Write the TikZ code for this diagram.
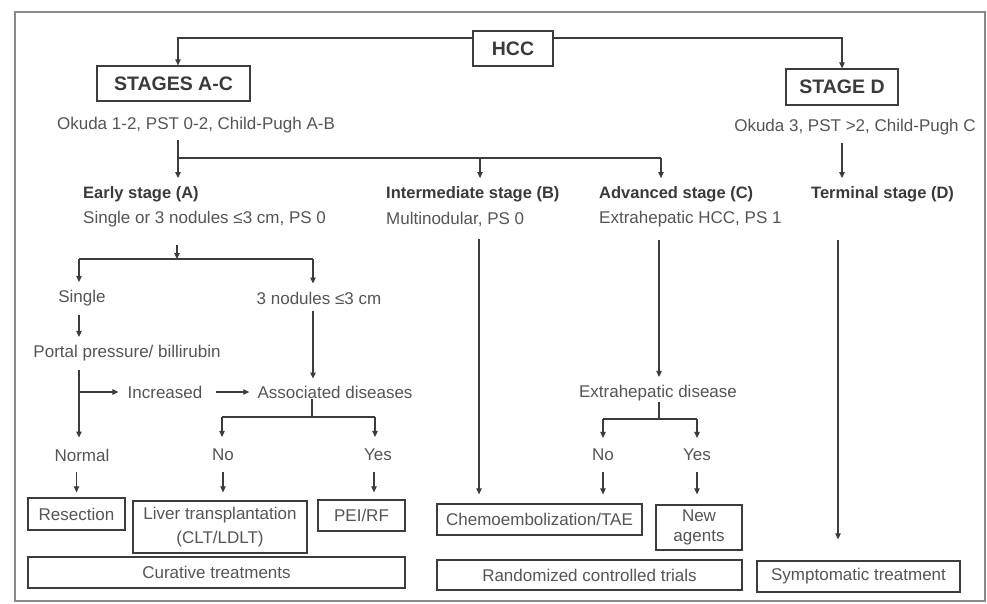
\documentclass[tikz,border=0pt]{standalone}
\usepackage{fontspec}
\setmainfont{Liberation Sans}
\usetikzlibrary{arrows.meta,calc}
\definecolor{txt}{HTML}{555555}
\definecolor{hd}{HTML}{3A3A3A}
\definecolor{ln}{HTML}{3C3C3C}
\definecolor{frm}{HTML}{8A8A8A}
\newcommand{\ftxt}{\fontsize{17}{20}\selectfont}
\newcommand{\fbld}{\fontsize{16.5}{20}\selectfont\bfseries}
\newcommand{\fhdr}{\fontsize{19.5}{22}\selectfont\bfseries}
\begin{document}
\begin{tikzpicture}[x=1pt,y=-1pt,
  line/.style={draw=ln, line width=1.1pt},
  arr/.style={line, -{Triangle[length=6pt,width=5.5pt]}},
  box/.style={draw=ln, line width=1.3pt, inner sep=0pt, text=txt, align=center, font=\ftxt},
  hbox/.style={box, font=\fhdr, text=hd},
  lbl/.style={text=txt, inner sep=1pt, font=\ftxt},
  blbl/.style={text=hd, inner sep=1pt, font=\fbld}]
\fill[white] (0,0) rectangle (987,603);
\useasboundingbox (0,0) rectangle (987,603);
\draw[draw=frm, line width=1.2pt] (15,12) rectangle (985,601);

% header boxes
\node[hbox, minimum width=80, minimum height=35] (hcc) at (513,48.5) {HCC};
\node[hbox, minimum width=153, minimum height=35] (sac) at (173.5,83.5) {STAGES A-C};
\node[hbox, minimum width=112, minimum height=36] (sd) at (842,87) {STAGE D};
\node[lbl] (okl) at (196,125) {Okuda 1-2, PST 0-2, Child-Pugh A-B};
\node[lbl] (okr) at (855,127) {Okuda 3, PST >2, Child-Pugh C};

% stage texts
\node[blbl, anchor=west] (early) at (82,194) {Early stage (A)};
\node[lbl, anchor=west] (earlyd) at (82,219) {Single or 3 nodules ≤3 cm, PS 0};
\node[blbl, anchor=west] (inter) at (385,194) {Intermediate stage (B)};
\node[lbl, anchor=west] (interd) at (385,219) {Multinodular, PS 0};
\node[blbl, anchor=west] (adv) at (598,194) {Advanced stage (C)};
\node[lbl, anchor=west] (advd) at (598,219) {Extrahepatic HCC, PS 1};
\node[blbl, anchor=west] (term) at (810,194) {Terminal stage (D)};

% decision texts
\node[lbl] (single) at (82,298) {Single};
\node[lbl] (nod3) at (319,298) {3 nodules ≤3 cm};
\node[lbl] (portal) at (127,353) {Portal pressure/ billirubin};
\node[lbl] (incr) at (165,392) {Increased};
\node[lbl] (assoc) at (335,392) {Associated diseases};
\node[lbl] (exd) at (658,393) {Extrahepatic disease};
\node[lbl] (normal) at (82,455) {Normal};
\node[lbl] (no1) at (223,455) {No};
\node[lbl] (yes1) at (378,455) {Yes};
\node[lbl] (no2) at (603,455) {No};
\node[lbl] (yes2) at (697,455) {Yes};

% treatment boxes
\node[box, minimum width=97, minimum height=32] (res) at (76.5,514) {Resection};
\node[box, minimum width=174, minimum height=52] (liver) at (220,527) {Liver transplantation\\[4pt](CLT/LDLT)};
\node[box, minimum width=87, minimum height=31] (pei) at (361.5,515.5) {PEI/RF};
\node[box, minimum width=377, minimum height=31] (cur) at (216.5,572.5) {Curative treatments};
\node[box, minimum width=205, minimum height=31] (chemo) at (539.5,519.5) {Chemoembolization/TAE};
\node[box, minimum width=86, minimum height=45] (newag) at (699,527.5) {New\\agents};
\node[box, minimum width=305, minimum height=30] (rct) at (589.5,575) {Randomized controlled trials};
\node[box, minimum width=203, minimum height=31] (sym) at (858.5,576.5) {Symptomatic treatment};

% connectors: top
\draw[arr] (hcc.west |- 0,38) -| (178,0 |- sac.north);
\draw[arr] (hcc.east |- 0,38) -| (sd.north);
\draw[line, shorten <=6pt] (178,0 |- okl.south) -- (178,158) coordinate (j1) -- (661,158) coordinate (j2);
\draw[arr, shorten >=7pt] (j1) -- (178,0 |- early.north);
\draw[arr, shorten >=7pt] (480,158) -- (480,0 |- inter.north);
\draw[arr, shorten >=7pt] (j2) -- (661,0 |- adv.north);
\draw[arr, shorten <=7pt, shorten >=7pt] (sd.south |- okr.south) -- (sd.south |- term.north);

% early stage branch
\draw[arr, shorten <=17pt] (177,0 |- earlyd.south) -- (177,259) coordinate (j3);
\draw[line] (79,259) coordinate (j4) -- (313,259) coordinate (j5);
\draw[arr, shorten >=7pt] (j4) -- (79,0 |- single.north);
\draw[arr, shorten >=7pt] (j5) -- (313,0 |- nod3.north);
\draw[arr, shorten <=8pt, shorten >=7pt] (79,0 |- single.south) -- (79,0 |- portal.north);
\draw[arr, shorten <=8pt, shorten >=10pt] (79,0 |- portal.south) -- (79,0 |- normal.north);
\draw[arr, shorten >=8pt] (79,0 |- incr.west) -- (incr.west);
\draw[arr, shorten <=12pt, shorten >=7pt] (incr.east) -- (assoc.west);
\draw[arr, shorten <=6pt, shorten >=6pt] (313,0 |- nod3.south) -- (313,0 |- assoc.north);
\draw[line] (312,0 |- assoc.south) -- (312,417) coordinate (j6);
\draw[line] (222,417) coordinate (j7) -- (375,417) coordinate (j8);
\draw[arr, shorten >=11pt] (j7) -- (222,0 |- no1.north);
\draw[arr, shorten >=11pt] (j8) -- (375,0 |- yes1.north);
\draw[arr, shorten <=10pt, shorten >=5pt] (res.north |- normal.south) -- (res.north);
\draw[arr, shorten <=10pt, shorten >=8pt] (223,0 |- no1.south) -- (223,0 |- liver.north);
\draw[arr, shorten <=10pt, shorten >=7pt] (374,0 |- yes1.south) -- (374,0 |- pei.north);

% intermediate
\draw[arr, shorten <=12pt, shorten >=9pt] (479,0 |- interd.south) -- (479,0 |- chemo.north);

% advanced
\draw[arr, shorten <=12pt, shorten >=7pt] (659,0 |- advd.south) -- (659,0 |- exd.north);
\draw[line] (659,0 |- exd.south) -- (659,419) coordinate (j9);
\draw[line] (603,419) coordinate (j10) -- (697,419) coordinate (j11);
\draw[arr, shorten >=10pt] (j10) -- (603,0 |- no2.north);
\draw[arr, shorten >=10pt] (j11) -- (697,0 |- yes2.north);
\draw[arr, shorten <=10pt, shorten >=9pt] (603,0 |- no2.south) -- (603,0 |- chemo.north);
\draw[arr, shorten <=10pt, shorten >=10pt] (697,0 |- yes2.south) -- (697,0 |- newag.north);

% terminal
\draw[arr, shorten <=37pt, shorten >=21pt] (838,0 |- term.south) -- (838,0 |- sym.north);
\end{tikzpicture}
\end{document}
